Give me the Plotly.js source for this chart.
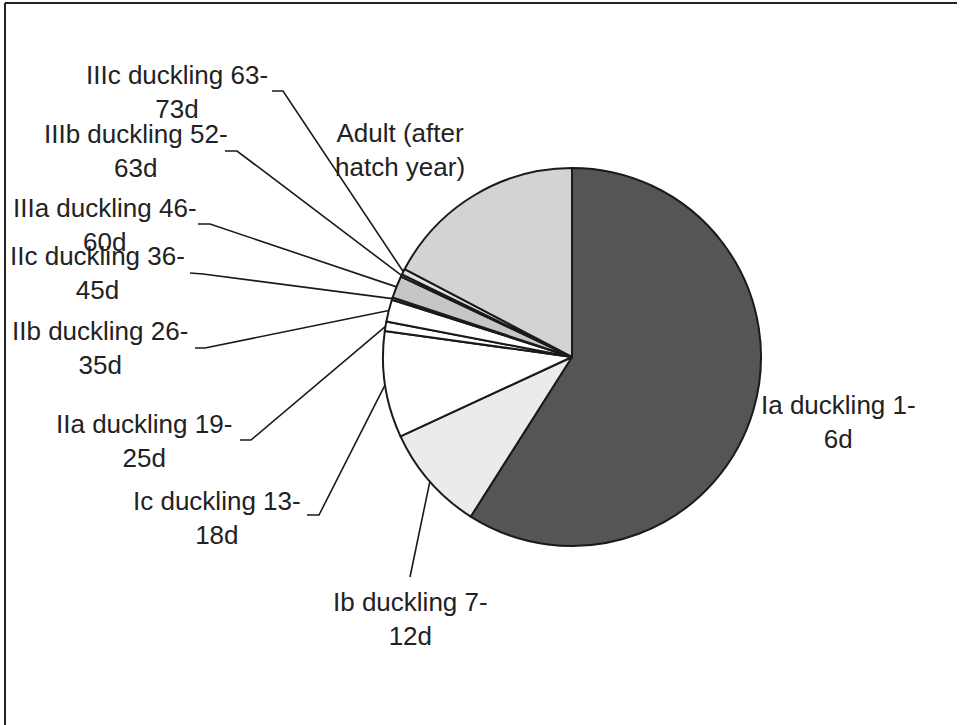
<!DOCTYPE html>
<html><head><meta charset="utf-8">
<script src="https://cdn.plot.ly/plotly-3.0.1.min.js"></script>
<style>html,body{margin:0;padding:0;background:#fff}#chart{width:961px;height:725px}</style>
</head><body><div id="chart"></div>
<script>
// ---- data ----
const categories = ['Ia duckling 1-6d','Ib duckling 7-12d','Ic duckling 13-18d','IIa duckling 19-25d','IIb duckling 26-35d','IIc duckling 36-45d','IIIa duckling 46-60d','IIIb duckling 52-63d','IIIc duckling 63-73d','Adult (after hatch year)'];
const values = [59.0, 9.1, 9.1, 0.8, 1.9, 0.2, 1.9, 0.2, 0.5, 17.3];
const labelLines = [['Ia duckling 1-','6d'],['Ib duckling 7-','12d'],['Ic duckling 13-','18d'],['IIa duckling 19-','25d'],['IIb duckling 26-','35d'],['IIc duckling 36-','45d'],['IIIa duckling 46-','60d'],['IIIb duckling 52-','63d'],['IIIc duckling 63-','73d'],['Adult (after','hatch year)']];

// ---- styles / layout positions ----
const colors = ['#545557','#ebebeb','#ffffff','#ffffff','#ffffff','#ffffff','#c6c6c6','#ffffff','#e2e2e2','#d3d3d3'];
const W = 961, H = 725, CX = 572, CY = 357, R = 189;
const labelPos = [[838,422],[410,619],[217,518],[144,441],[100,348],[97,273],[105,225],[136,151],[177,92],[400,150]];
const leaderStart = [null,[[410,577]],[[307,515],[319,515]],[[240,440],[251,440]],[[195,348],[205,348]],[[190,273],[203,274]],[[198,224],[210,224]],[[225,151],[237,151]],[[272,91],[283,91]],null];

const px = x => x / W, py = y => 1 - y / H;
const total = values.reduce((a,b)=>a+b,0);
let cum = 0;
const midAngles = values.map(v => { const m = (cum + v/2) / total * 2*Math.PI; cum += v; return m; });

const shapes = [];
midAngles.forEach((a, i) => {
  if (!leaderStart[i]) return;
  const tx = CX + R*Math.sin(a), ty = CY - R*Math.cos(a);
  const pts = leaderStart[i].concat([[tx, ty]]);
  const d = pts.map((p,k)=> (k?'L':'M') + px(p[0]).toFixed(5) + ',' + py(p[1]).toFixed(5)).join(' ');
  shapes.push({type:'path', xref:'paper', yref:'paper', path:d, line:{color:'#1a1a1a', width:1.6}});
});
// frame
shapes.push({type:'line', xref:'paper', yref:'paper', x0:px(5), x1:px(957), y0:py(3), y1:py(3), line:{color:'#222', width:2}});
shapes.push({type:'line', xref:'paper', yref:'paper', x0:px(5), x1:px(5), y0:py(3), y1:py(725), line:{color:'#222', width:2}});

const annotations = labelLines.map((l, i) => ({
  xref:'paper', yref:'paper', x:px(labelPos[i][0]), y:py(labelPos[i][1]),
  xanchor:'center', yanchor:'middle', showarrow:false, align:'center',
  text: l.join('<br>'),
  font:{family:'Liberation Sans, Arial, sans-serif', size:26, color:'#222'}
}));

const trace = {
  type:'pie', labels:categories, values:values, sort:false, direction:'clockwise', rotation:0,
  textinfo:'none', hoverinfo:'label+percent',
  marker:{colors:colors, line:{color:'#1a1a1a', width:2}},
  domain:{x:[(CX-R)/W, (CX+R)/W], y:[1-(CY+R)/H, 1-(CY-R)/H]},
  showlegend:false
};

Plotly.newPlot('chart', [trace], {
  width:W, height:H, margin:{l:0,r:0,t:0,b:0},
  paper_bgcolor:'#fff', showlegend:false,
  shapes:shapes, annotations:annotations
}, {staticPlot:true});
</script></body></html>
